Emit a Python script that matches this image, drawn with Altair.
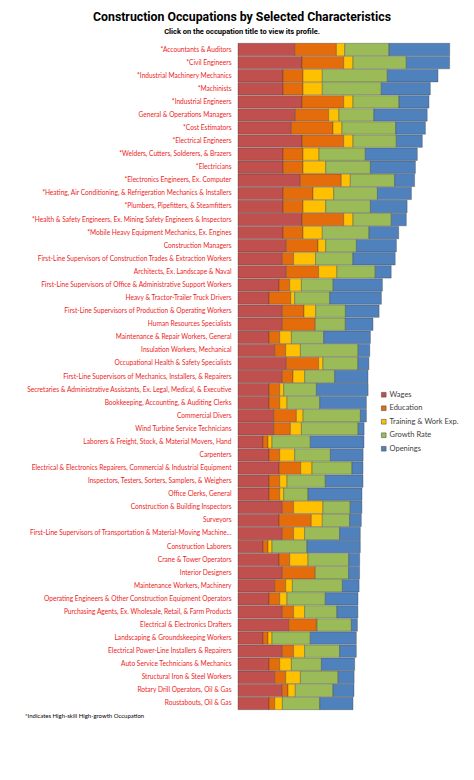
import altair as alt
import pandas as pd

occupations = [
    "*Accountants & Auditors",
    "*Civil Engineers",
    "*Industrial Machinery Mechanics",
    "*Machinists",
    "*Industrial Engineers",
    "General & Operations Managers",
    "*Cost Estimators",
    "*Electrical Engineers",
    "*Welders, Cutters, Solderers, & Brazers",
    "*Electricians",
    "*Electronics Engineers, Ex. Computer",
    "*Heating, Air Conditioning, & Refrigeration Mechanics & Installers",
    "*Plumbers, Pipefitters, & Steamfitters",
    "*Health & Safety Engineers, Ex. Mining Safety Engineers & Inspectors",
    "*Mobile Heavy Equipment Mechanics, Ex. Engines",
    "Construction Managers",
    "First-Line Supervisors of Construction Trades & Extraction Workers",
    "Architects, Ex. Landscape & Naval",
    "First-Line Supervisors of Office & Administrative Support Workers",
    "Heavy & Tractor-Trailer Truck Drivers",
    "First-Line Supervisors of Production & Operating Workers",
    "Human Resources Specialists",
    "Maintenance & Repair Workers, General",
    "Insulation Workers, Mechanical",
    "Occupational Health & Safety Specialists",
    "First-Line Supervisors of Mechanics, Installers, & Repairers",
    "Secretaries & Administrative Assistants, Ex. Legal, Medical, & Executive",
    "Bookkeeping, Accounting, & Auditing Clerks",
    "Commercial Divers",
    "Wind Turbine Service Technicians",
    "Laborers & Freight, Stock, & Material Movers, Hand",
    "Carpenters",
    "Electrical & Electronics Repairers, Commercial & Industrial Equipment",
    "Inspectors, Testers, Sorters, Samplers, & Weighers",
    "Office Clerks, General",
    "Construction & Building Inspectors",
    "Surveyors",
    "First-Line Supervisors of Transportation & Material-Moving Machine...",
    "Construction Laborers",
    "Crane & Tower Operators",
    "Interior Designers",
    "Maintenance Workers, Machinery",
    "Operating Engineers & Other Construction Equipment Operators",
    "Purchasing Agents, Ex. Wholesale, Retail, & Farm Products",
    "Electrical & Electronics Drafters",
    "Landscaping & Groundskeeping  Workers",
    "Electrical Power-Line Installers & Repairers",
    "Auto Service Technicians & Mechanics",
    "Structural Iron & Steel Workers",
    "Rotary Drill Operators, Oil & Gas",
    "Roustabouts, Oil & Gas",
]

wages = [56.7, 64.0, 45.0, 45.0, 64.0, 57.3, 53.3, 64.0, 45.0, 45.0,
         62.3, 45.0, 45.0, 64.0, 45.0, 48.3, 44.3, 48.3, 41.0, 31.0,
         44.3, 44.3, 31.0, 36.7, 48.3, 44.3, 31.0, 31.0, 35.7, 35.7,
         25.0, 31.0, 41.0, 31.0, 31.0, 44.3, 41.0, 44.3, 25.0, 41.0,
         44.3, 36.7, 31.0, 44.3, 50.7, 25.0, 44.3, 31.0, 36.7, 44.3,
         31.0]
education = [41.7, 41.7, 20.0, 20.0, 41.7, 33.3, 41.7, 41.7, 20.0, 20.0,
             41.0, 30.0, 20.0, 41.7, 20.0, 31.7, 11.3, 32.3, 10.7, 21.7,
             21.7, 33.0, 10.7, 11.0, 32.3, 10.7, 10.7, 10.7, 22.7, 16.7,
             5.0, 10.7, 21.7, 10.7, 10.7, 11.3, 32.3, 11.3, 5.0, 10.7,
             33.0, 11.0, 10.7, 11.3, 27.7, 5.0, 11.3, 10.7, 11.0, 5.7,
             5.7]
training = [8.3, 9.3, 19.3, 19.3, 9.3, 10.3, 9.0, 9.3, 16.0, 22.7,
            9.0, 20.7, 22.7, 9.3, 19.3, 7.7, 22.0, 18.3, 11.7, 4.0,
            11.7, 0.0, 11.7, 14.7, 4.3, 11.7, 4.0, 7.3, 6.7, 11.0,
            4.0, 15.0, 11.3, 7.3, 4.0, 29.3, 11.0, 11.0, 4.0, 18.3,
            0.0, 6.7, 7.3, 11.0, 0.7, 4.0, 11.0, 11.7, 14.7, 7.3,
            7.7]
growth = [44.3, 53.3, 65.0, 59.0, 46.0, 35.0, 53.7, 43.3, 46.3, 44.7,
          44.3, 43.7, 44.7, 38.3, 46.7, 30.7, 37.3, 38.3, 31.7, 35.0,
          29.7, 30.0, 32.3, 57.7, 35.0, 30.0, 32.7, 32.7, 57.3, 56.7,
          38.3, 35.7, 40.0, 38.3, 24.3, 27.3, 27.3, 35.0, 35.0, 40.7,
          33.3, 50.0, 38.3, 32.3, 34.3, 38.3, 35.0, 30.0, 37.7, 37.7,
          37.3]
openings = [60.7, 43.3, 50.7, 49.0, 30.0, 53.3, 29.7, 26.0, 52.0, 45.0,
            20.0, 34.0, 36.7, 15.0, 29.7, 40.0, 42.3, 16.0, 49.3, 51.7,
            33.7, 27.7, 46.7, 11.7, 11.0, 33.3, 51.7, 46.7, 6.0, 6.0,
            53.7, 32.7, 11.0, 37.7, 54.0, 11.7, 11.7, 20.7, 53.3, 11.0,
            11.0, 16.7, 32.7, 21.0, 6.0, 46.0, 16.7, 33.3, 16.0, 21.0,
            33.3]

series = ["Wages", "Education", "Training & Work Exp.", "Growth Rate", "Openings"]
colors = ["#c0504d", "#e46c0a", "#ffc000", "#9bbb59", "#4f81bd"]
footnote = ["*Indicates  High-skill High-growth Occupation"]

rows = []
for i, occ in enumerate(occupations):
    for j, vals in enumerate([wages, education, training, growth, openings]):
        if vals[i] > 0:
            rows.append({"occupation": occ, "series": series[j], "value": vals[i], "order": j})
df = pd.DataFrame(rows)

BODY = "Lato"
HEAD = "Roboto"

bars = alt.Chart(df).mark_bar(stroke="#3a3a3a", strokeWidth=0.5, strokeOpacity=0.7).encode(
    x=alt.X("value:Q", stack="zero",
            scale=alt.Scale(domain=[0, 212], nice=False, zero=True), axis=None),
    y=alt.Y("occupation:N", sort=occupations,
            scale=alt.Scale(paddingInner=0.05, paddingOuter=0.025),
            axis=alt.Axis(title=None, domain=False, ticks=False, tickSize=0,
                          labelPadding=7, labelFontSize=6.6, labelFont=BODY,
                          labelColor="#ee1c24", labelLimit=0)),
    color=alt.Color("series:N", scale=alt.Scale(domain=series, range=colors),
                    legend=alt.Legend(title=None, orient="none", legendX=142, legendY=348,
                                      symbolType="square", symbolSize=22,
                                      symbolStrokeWidth=0.6, symbolStrokeColor="#555555",
                                      labelFont=BODY, labelFontSize=7.5, labelColor="#404040",
                                      rowPadding=4.5, labelOffset=2)),
    order=alt.Order("order:Q"),
)

note = alt.Chart(pd.DataFrame({"t": footnote})).mark_text(
    align="left", baseline="middle", fontSize=6, font=BODY, color="black"
).encode(text="t:N", x=alt.value(-213), y=alt.value(672.5))

chart = alt.layer(bars, note).properties(
    width=212, height=667,
    autosize=alt.AutoSizeParams(type="none"),
    padding={"left": 230, "top": 35, "right": 16, "bottom": 40},
    title=alt.TitleParams(
        text="Construction Occupations by Selected Characteristics",
        subtitle="Click on the occupation title to view its profile.",
        font=HEAD, fontSize=12.3, fontWeight="bold", color="black",
        subtitleFont=HEAD, subtitleFontSize=7.5, subtitleFontWeight="bold",
        subtitleColor="black", anchor="middle", frame="group", dx=-102,
        offset=8, subtitlePadding=4,
    ),
).configure_view(stroke=None)

chart.save("out.html", embed_options={"renderer": "svg", "actions": False})
